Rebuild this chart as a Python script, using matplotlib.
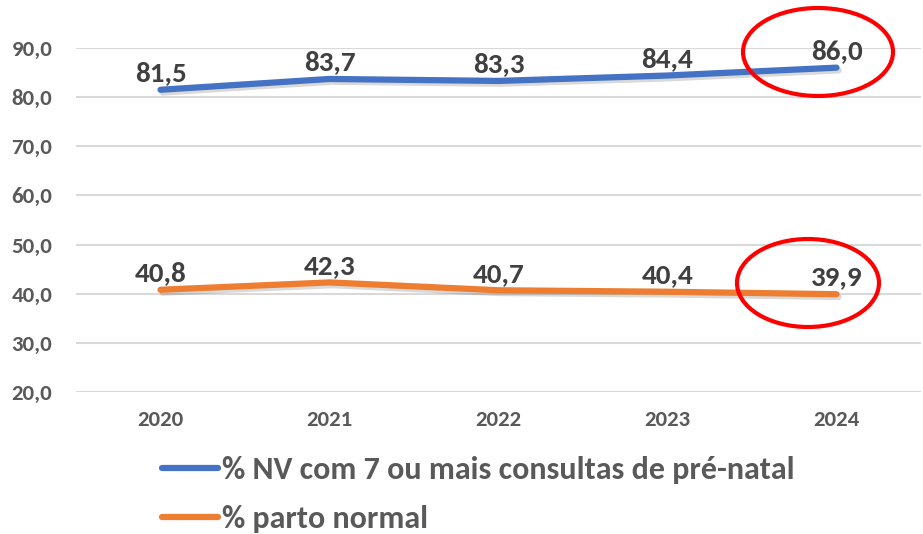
import matplotlib.pyplot as plt
import matplotlib.patheffects as pe
from matplotlib.patches import Ellipse
from matplotlib.ticker import FuncFormatter

plt.rcParams['font.family'] = ['Carlito', 'DejaVu Sans']

# dados
anos = ['2020', '2021', '2022', '2023', '2024']
consultas = [81.5, 83.7, 83.3, 84.4, 86.0]
parto_normal = [40.8, 42.3, 40.7, 40.4, 39.9]
nome_consultas = '% NV com 7 ou mais consultas de pré-natal'
nome_parto = '% parto normal'
yticks = [20, 30, 40, 50, 60, 70, 80, 90]

azul = '#4472C4'
laranja = '#ED7D31'
cinza = '#595959'

fig = plt.figure(figsize=(9.23, 5.34), dpi=100)
ax = fig.add_axes([76/923, 1-392/534, 845/923, 344/534])

x = range(len(anos))
sombra = [pe.SimpleLineShadow(offset=(1.5, -2), alpha=0.15, shadow_color='black'), pe.Normal()]
l1, = ax.plot(x, consultas, color=azul, lw=4.5, solid_capstyle='round', path_effects=sombra, label=nome_consultas)
l2, = ax.plot(x, parto_normal, color=laranja, lw=4.5, solid_capstyle='round', path_effects=sombra, label=nome_parto)

# rótulos de dados
for serie in (consultas, parto_normal):
    for i, v in enumerate(serie):
        ax.annotate(f'{v:.1f}'.replace('.', ','), (i, v), xytext=(0, 12), textcoords='offset points',
                    ha='center', va='center', fontsize=21, fontweight='bold', color='#404040')

ax.set_xlim(-0.5, len(anos) - 0.5)
ax.set_ylim(20, 90)
ax.set_yticks(yticks)
ax.yaxis.set_major_formatter(FuncFormatter(lambda v, p: f'{v:.1f}'.replace('.', ',')))
ax.set_xticks(list(x))
ax.set_xticklabels(anos)
ax.tick_params(axis='both', length=0, labelsize=16.5, labelcolor=cinza)
ax.tick_params(axis='y', pad=17)
ax.tick_params(axis='x', pad=13)
for lab in ax.get_xticklabels() + ax.get_yticklabels():
    lab.set_fontweight('bold')
ax.grid(axis='y', color='#D9D9D9', lw=1.5)
ax.set_axisbelow(True)
for s in ax.spines.values():
    s.set_visible(False)

# legenda
leg = fig.legend(handles=[l1, l2], loc='upper left', bbox_to_anchor=(162/923, 1-456/534),
                 frameon=False, handlelength=1.75, handletextpad=0.13, labelspacing=0.67,
                 borderpad=0, borderaxespad=0, prop={'size': 23, 'weight': 'bold'})
for t in leg.get_texts():
    t.set_color(cinza)
for h in leg.legend_handles:
    h.set_path_effects([])

# destaques em vermelho
fig.add_artist(Ellipse((818/923, 1-52/534), 150/923, 88/534, transform=fig.transFigure,
                       fill=False, ec='red', lw=3))
fig.add_artist(Ellipse((808/923, 1-283/534), 142/923, 88/534, transform=fig.transFigure,
                       fill=False, ec='red', lw=3))

fig.savefig('out.png', dpi=100)
